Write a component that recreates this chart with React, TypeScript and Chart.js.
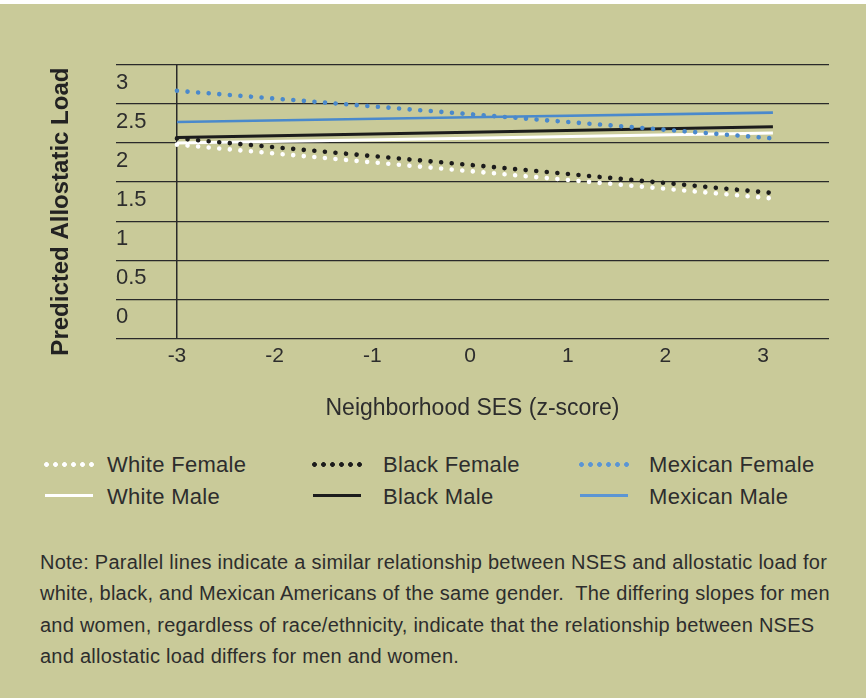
import React, { useEffect, useRef } from 'react';
import { Chart, registerables } from 'chart.js';

Chart.register(...registerables);

// ---- data ----
const xPoints = [-3, 0, 3.1];
const whiteFemale = [1.98, 1.64, 1.29];
const blackFemale = [2.06, 1.72, 1.36];
const mexicanFemale = [2.67, 2.37, 2.06];
const whiteMale = [2.0, 2.06, 2.13];
const blackMale = [2.07, 2.14, 2.21];
const mexicanMale = [2.27, 2.33, 2.39];

const xTicks = [-3, -2, -1, 0, 1, 2, 3];
const yTicks = [-0.5, 0, 0.5, 1, 1.5, 2, 2.5, 3];

const yTitle = 'Predicted Allostatic Load';
const xTitle = 'Neighborhood SES (z-score)';

const legendFemale = ['White Female', 'Black Female', 'Mexican Female'];
const legendMale = ['White Male', 'Black Male', 'Mexican Male'];

const noteLines = [
  'Note: Parallel lines indicate a similar relationship between NSES and allostatic load for',
  'white, black, and Mexican Americans of the same gender.  The differing slopes for men',
  'and women, regardless of race/ethnicity, indicate that the relationship between NSES',
  'and allostatic load differs for men and women.',
];

// ---- styles ----
const BG = '#c9ca99';
const TXT = '#2d2d2d';
const GRID = '#2a2a2a';
const WHITE = '#ffffff';
const BLACK = '#1c1c1c';
const BLUE = '#4a89cc';
const LEGEND_BLUE = '#5b95d4';
const FONT = '"Liberation Sans", Arial, Helvetica, sans-serif';

const pts = (ys: number[]) => xPoints.map((x, i) => ({ x, y: ys[i] }));

const dotted = (label: string, ys: number[], color: string) => ({
  label,
  data: pts(ys),
  borderColor: color,
  backgroundColor: color,
  borderWidth: 4.6,
  borderDash: [0.01, 10.6],
  borderCapStyle: 'round' as const,
  borderJoinStyle: 'round' as const,
  pointRadius: 0,
  tension: 0,
  fill: false,
});

const solid = (label: string, ys: number[], color: string, w: number) => ({
  label,
  data: pts(ys),
  borderColor: color,
  backgroundColor: color,
  borderWidth: w,
  pointRadius: 0,
  tension: 0,
  fill: false,
});

function ChartCanvas() {
  const ref = useRef<HTMLCanvasElement | null>(null);
  useEffect(() => {
    if (!ref.current) return;
    const chart = new Chart(ref.current, {
      type: 'line',
      data: {
        datasets: [
          dotted('Mexican Female', mexicanFemale, BLUE),
          dotted('Black Female', blackFemale, BLACK),
          dotted('White Female', whiteFemale, WHITE),
          solid('Mexican Male', mexicanMale, BLUE, 2.6),
          solid('Black Male', blackMale, BLACK, 3),
          solid('White Male', whiteMale, WHITE, 3),
        ] as any,
      },
      options: {
        animation: false,
        responsive: false,
        maintainAspectRatio: false,
        layout: { padding: { left: 0, top: 65, right: 37, bottom: 14 } },
        plugins: {
          legend: { display: false },
          tooltip: { enabled: false },
        },
        scales: {
          x: {
            type: 'linear',
            min: -3.624,
            max: 3.674,
            afterBuildTicks: (s: any) => {
              s.ticks = xTicks.map((v) => ({ value: v }));
            },
            grid: {
              color: (ctx: any) => (ctx.tick && ctx.tick.value === -3 ? GRID : 'rgba(0,0,0,0)'),
              lineWidth: 1.5,
              drawTicks: false,
            },
            border: { display: false },
            ticks: {
              font: { family: FONT, size: 21 },
              color: TXT,
              padding: 5,
              callback: (v: any) => String(v),
            },
            title: {
              display: true,
              text: xTitle,
              font: { family: FONT, size: 23 },
              color: TXT,
              padding: { top: 21, bottom: 4 },
            },
          },
          y: {
            type: 'linear',
            min: -0.5,
            max: 3,
            afterBuildTicks: (s: any) => {
              s.ticks = yTicks.map((v) => ({ value: v }));
            },
            grid: { color: GRID, lineWidth: 1.2, drawTicks: false },
            border: { display: false },
            ticks: {
              mirror: true,
              padding: 0,
              labelOffset: 18,
              font: { family: FONT, size: 22 },
              color: TXT,
              callback: (v: any) => (v < 0 ? '' : String(v)),
            },
            title: {
              display: true,
              text: yTitle + '   ',
              font: { family: FONT, size: 24, weight: 'bold' },
              color: '#222222',
              padding: { top: 46.6, bottom: 40.6 },
            },
          },
        },
      } as any,
    });
    return () => chart.destroy();
  }, []);
  return (
    <canvas
      ref={ref}
      width={866}
      height={440}
      style={{ position: 'absolute', left: 0, top: 0, width: 866, height: 440 }}
    />
  );
}

const dotSample = (color: string, left: number, top: number) => (
  <div
    style={{
      position: 'absolute',
      left,
      top,
      width: 54,
      height: 5,
      backgroundImage: `radial-gradient(circle, ${color} 2.1px, rgba(0,0,0,0) 2.6px)`,
      backgroundSize: '9px 5px',
      backgroundRepeat: 'repeat-x',
    }}
  />
);

const lineSample = (color: string, left: number, top: number, h: number) => (
  <div style={{ position: 'absolute', left, top, width: 48, height: h, background: color }} />
);

export default function App() {
  const colText = [107, 383, 649];
  const colSample = [42, 310, 577];
  const femaleColors = [WHITE, BLACK, LEGEND_BLUE];
  const maleColors = [WHITE, BLACK, LEGEND_BLUE];
  const textStyle = (left: number, top: number): React.CSSProperties => ({
    position: 'absolute',
    left,
    top,
    fontFamily: FONT,
    fontSize: 22,
    lineHeight: '22px',
    letterSpacing: 0.3,
    color: TXT,
    whiteSpace: 'nowrap',
  });
  return (
    <div
      style={{
        position: 'absolute',
        left: 0,
        top: 0,
        width: 866,
        height: 698,
        background: '#ffffff',
        overflow: 'hidden',
      }}
    >
      <div style={{ position: 'absolute', left: 0, top: 4, width: 866, height: 694, background: BG }} />
      <ChartCanvas />
      {legendFemale.map((t, i) => (
        <React.Fragment key={t}>
          {dotSample(femaleColors[i], colSample[i], 462)}
          <div style={textStyle(colText[i], 454)}>{t}</div>
        </React.Fragment>
      ))}
      {legendMale.map((t, i) => (
        <React.Fragment key={t}>
          {lineSample(maleColors[i], colSample[i] + 3, 494, 3)}
          <div style={textStyle(colText[i], 486)}>{t}</div>
        </React.Fragment>
      ))}
      <div
        style={{
          position: 'absolute',
          left: 40,
          top: 547,
          fontFamily: FONT,
          fontSize: 20,
          lineHeight: '31.3px',
          letterSpacing: 0.25,
          color: TXT,
        }}
      >
        {noteLines.map((l) => (
          <div key={l} style={{ whiteSpace: 'pre' }}>
            {l}
          </div>
        ))}
      </div>
    </div>
  );
}
